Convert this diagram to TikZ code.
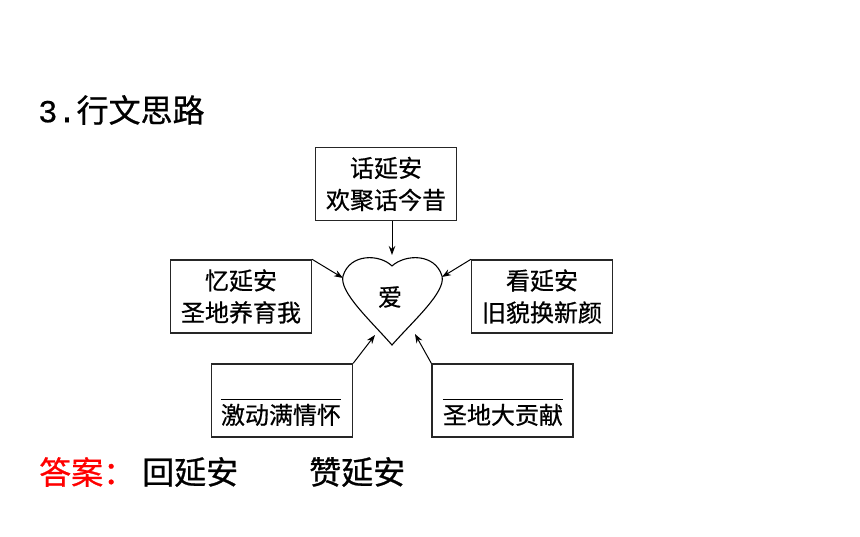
\documentclass[tikz,border=0pt]{standalone}
\usepackage{fontspec}
\setmainfont{Noto Sans CJK SC}[FakeBold=0.6]
\newfontfamily\bigf{Noto Sans CJK SC}[FakeBold=0.7]
\newfontfamily\monof{Liberation Mono}[FakeBold=0.5]
\usetikzlibrary{arrows.meta}
\begin{document}
\begin{tikzpicture}[x=1pt,y=-1pt,
 box/.style={draw=black!85, line width=1.3pt, minimum width=141pt, minimum height=73pt, inner sep=0pt, align=center, font=\fontsize{24}{32}\selectfont},
 conn/.style={line width=1pt, -{Stealth[length=9pt,width=6.5pt]}},
 big/.style={font=\fontsize{32}{38}\selectfont\bigf, anchor=west, inner sep=0pt},
 blank/.style={font=\fontsize{24}{28}\selectfont, inner sep=0pt, text height=20pt, text depth=4pt}]
\useasboundingbox (0,0) rectangle (860,537);
\fill[white] (0,0) rectangle (860,537);
\node[big] (title) at (38,110) {{\monof 3.}行文思路};
\node[box] (top) at (386,184) {\raisebox{2pt}{话延安}\\\raisebox{2pt}{欢聚话今昔}};
\node[box] (left) at (241,296.5) {\raisebox{2pt}{忆延安}\\\raisebox{2pt}{圣地养育我}};
\node[box] (right) at (542,296.5) {\raisebox{2pt}{看延安}\\\raisebox{2pt}{旧貌换新颜}};
\node[box] (bl) at (282,400.5) {};
\node[box] (br) at (502.5,400.5) {};
\node[blank] (blt) at (281,416) {激动满情怀};
\node[blank] (brt) at (503,416) {圣地大贡献};
\draw[line width=1pt] ([yshift=4pt]blt.north west) -- ([yshift=4pt]blt.north east);
\draw[line width=1pt] ([yshift=4pt]brt.north west) -- ([yshift=4pt]brt.north east);
\draw[line width=1.1pt] (392,266) .. controls (380,254) and (350,253) .. (343,276)
  .. controls (339,292) and (370,320) .. (392,345)
  .. controls (414,320) and (446,292) .. (442,276)
  .. controls (435,253) and (405,254) .. (392,266);
\node[font=\fontsize{24}{28}\selectfont] (love) at (390,297) {爱};
\coordinate (hT) at (392,255);
\coordinate (hL) at (343,278);
\coordinate (hR) at (442,277);
\coordinate (hBL) at (375,335);
\coordinate (hBR) at (415,334);
\draw[conn] (top.south -| hT) -- (hT);
\draw[conn] (left.north east) -- (hL);
\draw[conn] (right.north west) -- (hR);
\draw[conn] (bl.north east) -- (hBL);
\draw[conn] (br.north west) -- (hBR);
\node[big, text=red] (ans) at (39,472) {答案：};
\node[big] (a1) at (142,472) {回延安};
\node[big] (a2) at (309,472) {赞延安};
\end{tikzpicture}
\end{document}
